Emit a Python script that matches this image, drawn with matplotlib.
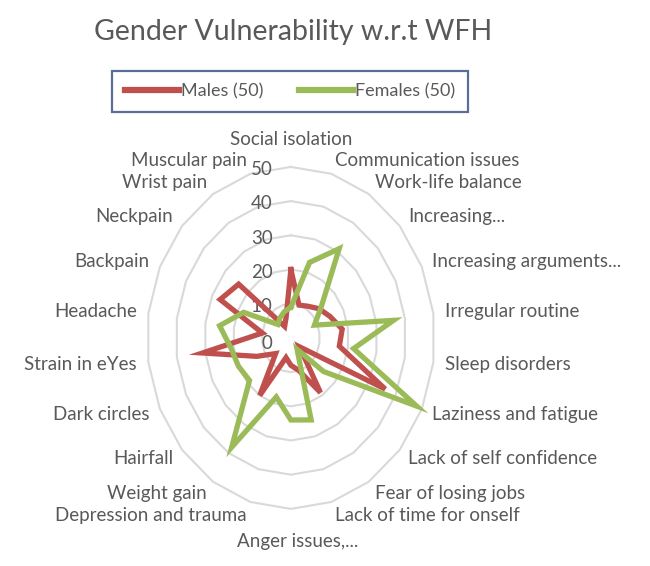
import numpy as np
import matplotlib.pyplot as plt

plt.rcParams["font.family"] = ["Lato", "DejaVu Sans"]

categories = [
    "Social isolation", "Communication issues", "Work-life balance",
    "Increasing...", "Increasing arguments...", "Irregular routine",
    "Sleep disorders", "Laziness and fatigue", "Lack of self confidence",
    "Fear of losing jobs", "Lack of time for onself", "Anger issues,...",
    "Depression and trauma", "Weight gain", "Hairfall", "Dark circles",
    "Strain in eYes", "Headache", "Backpain", "Neckpain", "Wrist pain",
    "Muscular pain",
]
males = [20, 10, 11, 13, 15, 18, 17, 36, 4, 19, 10, 8,
         6, 20, 7, 13, 31, 10, 27, 24, 4, 6]
females = [9, 23, 31, 14, 9, 36, 22, 48, 15, 4, 25, 24,
           18, 38, 19, 20, 21, 25, 18, 6, 7, 8]
rings = [10, 20, 30, 40, 50]
series_names = ["Males (50)", "Females (50)"]

TEXT = "#595959"
RED = "#C0504D"
GREEN = "#9BBB59"

n = len(categories)
theta = np.arange(n) * 2 * np.pi / n
closed = np.append(theta, theta[0])


def to_xy(values):
    r = np.append(values, values[0])
    return r * np.sin(closed), r * np.cos(closed)


fig = plt.figure(figsize=(6.5, 5.66), dpi=100)
ax = fig.add_axes([0, 0, 1, 1])
ax.set_xlim(-101.0, 124.7)
ax.set_ylim(-66.7, 98.8)
ax.axis("off")

# polygon gridlines
for level in rings:
    gx, gy = to_xy(np.full(n, level))
    ax.plot(gx, gy, color="#D9D9D9", lw=1.5, zorder=1)
    ax.text(-6.3, level - 0.8, str(level), ha="right", va="center",
            fontsize=13.5, color=TEXT)
ax.text(-6.3, -1.5, "0", ha="right", va="center", fontsize=13.5, color=TEXT)

mx, my = to_xy(males)
fx, fy = to_xy(females)
ax.plot(mx, my, color=RED, lw=3.8, label=series_names[0], zorder=3,
        solid_joinstyle="miter")
ax.plot(fx, fy, color=GREEN, lw=3.8, label=series_names[1], zorder=4,
        solid_joinstyle="miter")

# category labels
for i, (t, name) in enumerate(zip(theta, categories)):
    if i == 0:
        ax.text(0, 58, name, ha="center", va="center", fontsize=13.5, color=TEXT)
    elif i == n // 2:
        ax.text(2.5, -59.5, name, ha="center", va="center", fontsize=13.5, color=TEXT)
    else:
        r = 54
        ha = "left" if i < n // 2 else "right"
        ax.text(r * np.sin(t), r * np.cos(t), name, ha=ha, va="center",
                fontsize=13.5, color=TEXT)

fig.text(0.451, 0.943, "Gender Vulnerability w.r.t WFH", ha="center",
         va="center", fontsize=20.5, color=TEXT)

leg = fig.legend(loc="center", bbox_to_anchor=(0.446, 0.838), ncol=2,
                 fontsize=13, frameon=True, fancybox=False,
                 handlelength=3.0, handletextpad=0.1, columnspacing=2.0,
                 borderpad=0.7)
leg.get_frame().set_edgecolor("#2F4A7C")
leg.get_frame().set_linewidth(1.6)
for line in leg.get_lines():
    line.set_linewidth(4.5)
for txt in leg.get_texts():
    txt.set_color(TEXT)

fig.savefig("out.png", dpi=100, facecolor="white")
